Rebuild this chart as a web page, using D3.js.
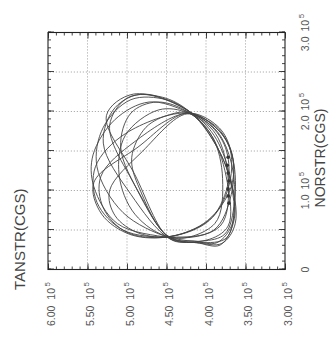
<!DOCTYPE html>
<html>
<head>
<meta charset="utf-8">
<script src="https://cdn.jsdelivr.net/npm/d3@7"></script>
<style>
  body { margin: 0; background: #fff; }
  text { font-family: "Liberation Sans", Arial, sans-serif; }
</style>
</head>
<body>
<script>
// stress path cycles, values in units of 10^5 CGS: [NORSTR, TANSTR]
const cycles = [
    [[0.42, 4.44], [0.44, 4.95], [0.70, 5.32], [1.10, 5.42], [1.55, 4.86], [1.98, 4.24], [1.80, 3.88], [1.50, 3.68], [1.05, 3.68], [0.62, 3.98]],
    [[0.41, 4.45], [0.50, 5.05], [0.85, 5.38], [1.30, 5.40], [1.72, 5.02], [1.98, 4.23], [1.78, 3.86], [1.45, 3.67], [0.95, 3.68], [0.50, 3.90]],
    [[0.40, 4.45], [0.58, 5.12], [1.05, 5.42], [1.45, 5.43], [1.90, 5.15], [2.12, 4.72], [1.99, 4.22], [1.78, 3.84], [1.40, 3.66], [0.85, 3.64], [0.45, 3.76], [0.36, 4.05]],
    [[0.40, 4.46], [0.72, 5.05], [1.30, 5.38], [1.80, 5.30], [2.15, 4.95], [2.15, 4.50], [2.00, 4.21], [1.75, 3.86], [1.35, 3.68], [0.80, 3.64], [0.40, 3.74], [0.34, 4.08]],
    [[0.39, 4.46], [0.95, 4.95], [1.60, 5.30], [2.05, 5.15], [2.22, 4.80], [2.00, 4.21], [1.70, 3.90], [1.20, 3.70], [0.58, 3.63], [0.33, 3.80], [0.34, 4.12]],
    [[0.39, 4.46], [1.20, 4.90], [1.95, 5.26], [2.22, 4.92], [2.00, 4.21], [1.65, 3.92], [1.20, 3.71], [0.65, 3.64], [0.31, 3.82], [0.34, 4.12]],
    [[0.42, 4.44], [0.46, 4.85], [0.68, 5.15], [1.00, 5.22], [1.50, 4.80], [1.97, 4.24], [1.80, 3.92], [1.50, 3.74], [1.05, 3.73], [0.62, 3.96]],
    [[0.40, 4.45], [0.92, 4.82], [1.55, 5.08], [1.98, 4.95], [2.12, 4.62], [1.99, 4.22], [1.68, 3.92], [1.10, 3.73], [0.55, 3.72], [0.37, 4.00]],
    [[0.41, 4.45], [0.70, 4.90], [1.20, 5.10], [1.70, 5.02], [2.02, 4.60], [1.98, 4.22], [1.72, 3.88], [1.15, 3.72], [0.55, 3.82]],
    [[0.41, 4.45], [1.02, 4.84], [1.42, 4.94], [1.80, 4.76], [1.96, 4.46], [1.98, 4.22], [1.68, 3.92], [1.15, 3.79], [0.58, 3.89]],
    [[0.42, 4.44], [0.47, 5.00], [0.78, 5.30], [1.18, 5.33], [1.62, 4.90], [1.98, 4.23], [1.82, 3.86], [1.55, 3.70], [1.10, 3.70], [0.66, 3.92]],
    [[0.40, 4.46], [1.10, 4.92], [1.82, 5.22], [2.18, 4.98], [2.18, 4.55], [2.00, 4.21], [1.62, 3.90], [1.15, 3.70], [0.60, 3.66], [0.34, 3.86], [0.36, 4.15]]
];

// cycle start markers
const markNor = [0.84, 0.93, 1.02, 1.12, 1.22, 1.32, 1.42];
const markTan = [3.71, 3.72, 3.72, 3.71, 3.72, 3.73, 3.72];

const norTicks = [0, 1, 2, 3];
const norLabels = ["0", "1.0", "2.0", "3.0"];
const tanTicks = [3, 3.5, 4, 4.5, 5, 5.5, 6];
const tanLabels = ["3.00", "3.50", "4.00", "4.50", "5.00", "5.50", "6.00"];

const W = 335, H = 345;

const svg = d3.select("body").append("svg")
    .attr("width", W)
    .attr("height", H);

// the scanned figure is turned a quarter turn, so draw it upright and rotate
const g = svg.append("g")
    .attr("transform", `translate(0,${H}) rotate(-90)`);

const x = d3.scaleLinear().domain([0, 3]).range([75.5, 312.5]);
const y = d3.scaleLinear().domain([3, 6]).range([285, 48]);

// dotted grid
const grid = g.append("g")
    .attr("stroke", "#999")
    .attr("stroke-width", 0.8)
    .attr("stroke-dasharray", "1.2,1.8");

grid.selectAll(".gx")
    .data(x.ticks(6).filter(d => d > 0 && d < 3))
    .join("line")
    .attr("x1", d => x(d)).attr("x2", d => x(d))
    .attr("y1", y(3)).attr("y2", y(6));

grid.selectAll(".gy")
    .data(y.ticks(6).filter(d => d > 3 && d < 6))
    .join("line")
    .attr("x1", x(0)).attr("x2", x(3))
    .attr("y1", d => y(d)).attr("y2", d => y(d));

// ticks on all four sides, pointing inward
function ticks(axis, transform, n, size) {
    g.append("g")
        .attr("transform", transform)
        .call(axis.ticks(n).tickSize(-size).tickSizeOuter(0).tickFormat(""))
        .call(s => s.select(".domain").remove())
        .call(s => s.selectAll("line").attr("stroke", "#333").attr("stroke-width", 0.9));
}

ticks(d3.axisBottom(x), `translate(0,${y(3)})`, 30, 3);
ticks(d3.axisBottom(x), `translate(0,${y(3)})`, 6, 6);
ticks(d3.axisTop(x), `translate(0,${y(6)})`, 30, 3);
ticks(d3.axisTop(x), `translate(0,${y(6)})`, 6, 6);
ticks(d3.axisLeft(y), `translate(${x(0)},0)`, 30, 3);
ticks(d3.axisLeft(y), `translate(${x(0)},0)`, 6, 6);
ticks(d3.axisRight(y), `translate(${x(3)},0)`, 30, 3);
ticks(d3.axisRight(y), `translate(${x(3)},0)`, 6, 6);

g.append("rect")
    .attr("x", x(0)).attr("y", y(6))
    .attr("width", x(3) - x(0)).attr("height", y(3) - y(6))
    .attr("fill", "none")
    .attr("stroke", "#222")
    .attr("stroke-width", 1.1);

// cycles
const line = d3.line()
    .x(d => x(d[0]))
    .y(d => y(d[1]))
    .curve(d3.curveCatmullRomClosed.alpha(0.5));

g.append("g")
    .attr("fill", "none")
    .attr("stroke", "#444")
    .attr("stroke-width", 0.9)
    .selectAll("path")
    .data(cycles)
    .join("path")
    .attr("d", line);

g.append("g")
    .attr("fill", "#333")
    .selectAll("circle")
    .data(markNor)
    .join("circle")
    .attr("cx", d => x(d))
    .attr("cy", (d, i) => y(markTan[i]))
    .attr("r", 1.8);

// tick labels
const tanText = g.append("g")
    .attr("fill", "#555")
    .attr("font-size", 10.5)
    .selectAll("text")
    .data(tanTicks)
    .join("text")
    .attr("x", 63)
    .attr("y", d => y(d) + 6.5)
    .attr("text-anchor", "end");
tanText.append("tspan").text((d, i) => tanLabels[i]);
tanText.append("tspan").attr("dx", 6).text("10");
tanText.append("tspan").attr("dx", 1.5).attr("dy", -5).attr("font-size", 8).text("5");

const norText = g.append("g")
    .attr("fill", "#555")
    .attr("font-size", 10.5)
    .selectAll("text")
    .data(norTicks)
    .join("text")
    .attr("x", d => x(d))
    .attr("y", 309)
    .attr("text-anchor", "middle");
norText.append("tspan").text((d, i) => norLabels[i]);
norText.filter(d => d > 0).append("tspan").attr("dx", 5).text("10");
norText.filter(d => d > 0).append("tspan").attr("dx", 1.5).attr("dy", -5).attr("font-size", 8).text("5");

// axis titles
g.append("text")
    .attr("x", 55)
    .attr("y", 25)
    .attr("fill", "#444")
    .attr("font-size", 15)
    .text("TANSTR(CGS)");

g.append("text")
    .attr("x", 187)
    .attr("y", 325)
    .attr("text-anchor", "middle")
    .attr("fill", "#444")
    .attr("font-size", 14)
    .text("NORSTR(CGS)");
</script>
</body>
</html>
